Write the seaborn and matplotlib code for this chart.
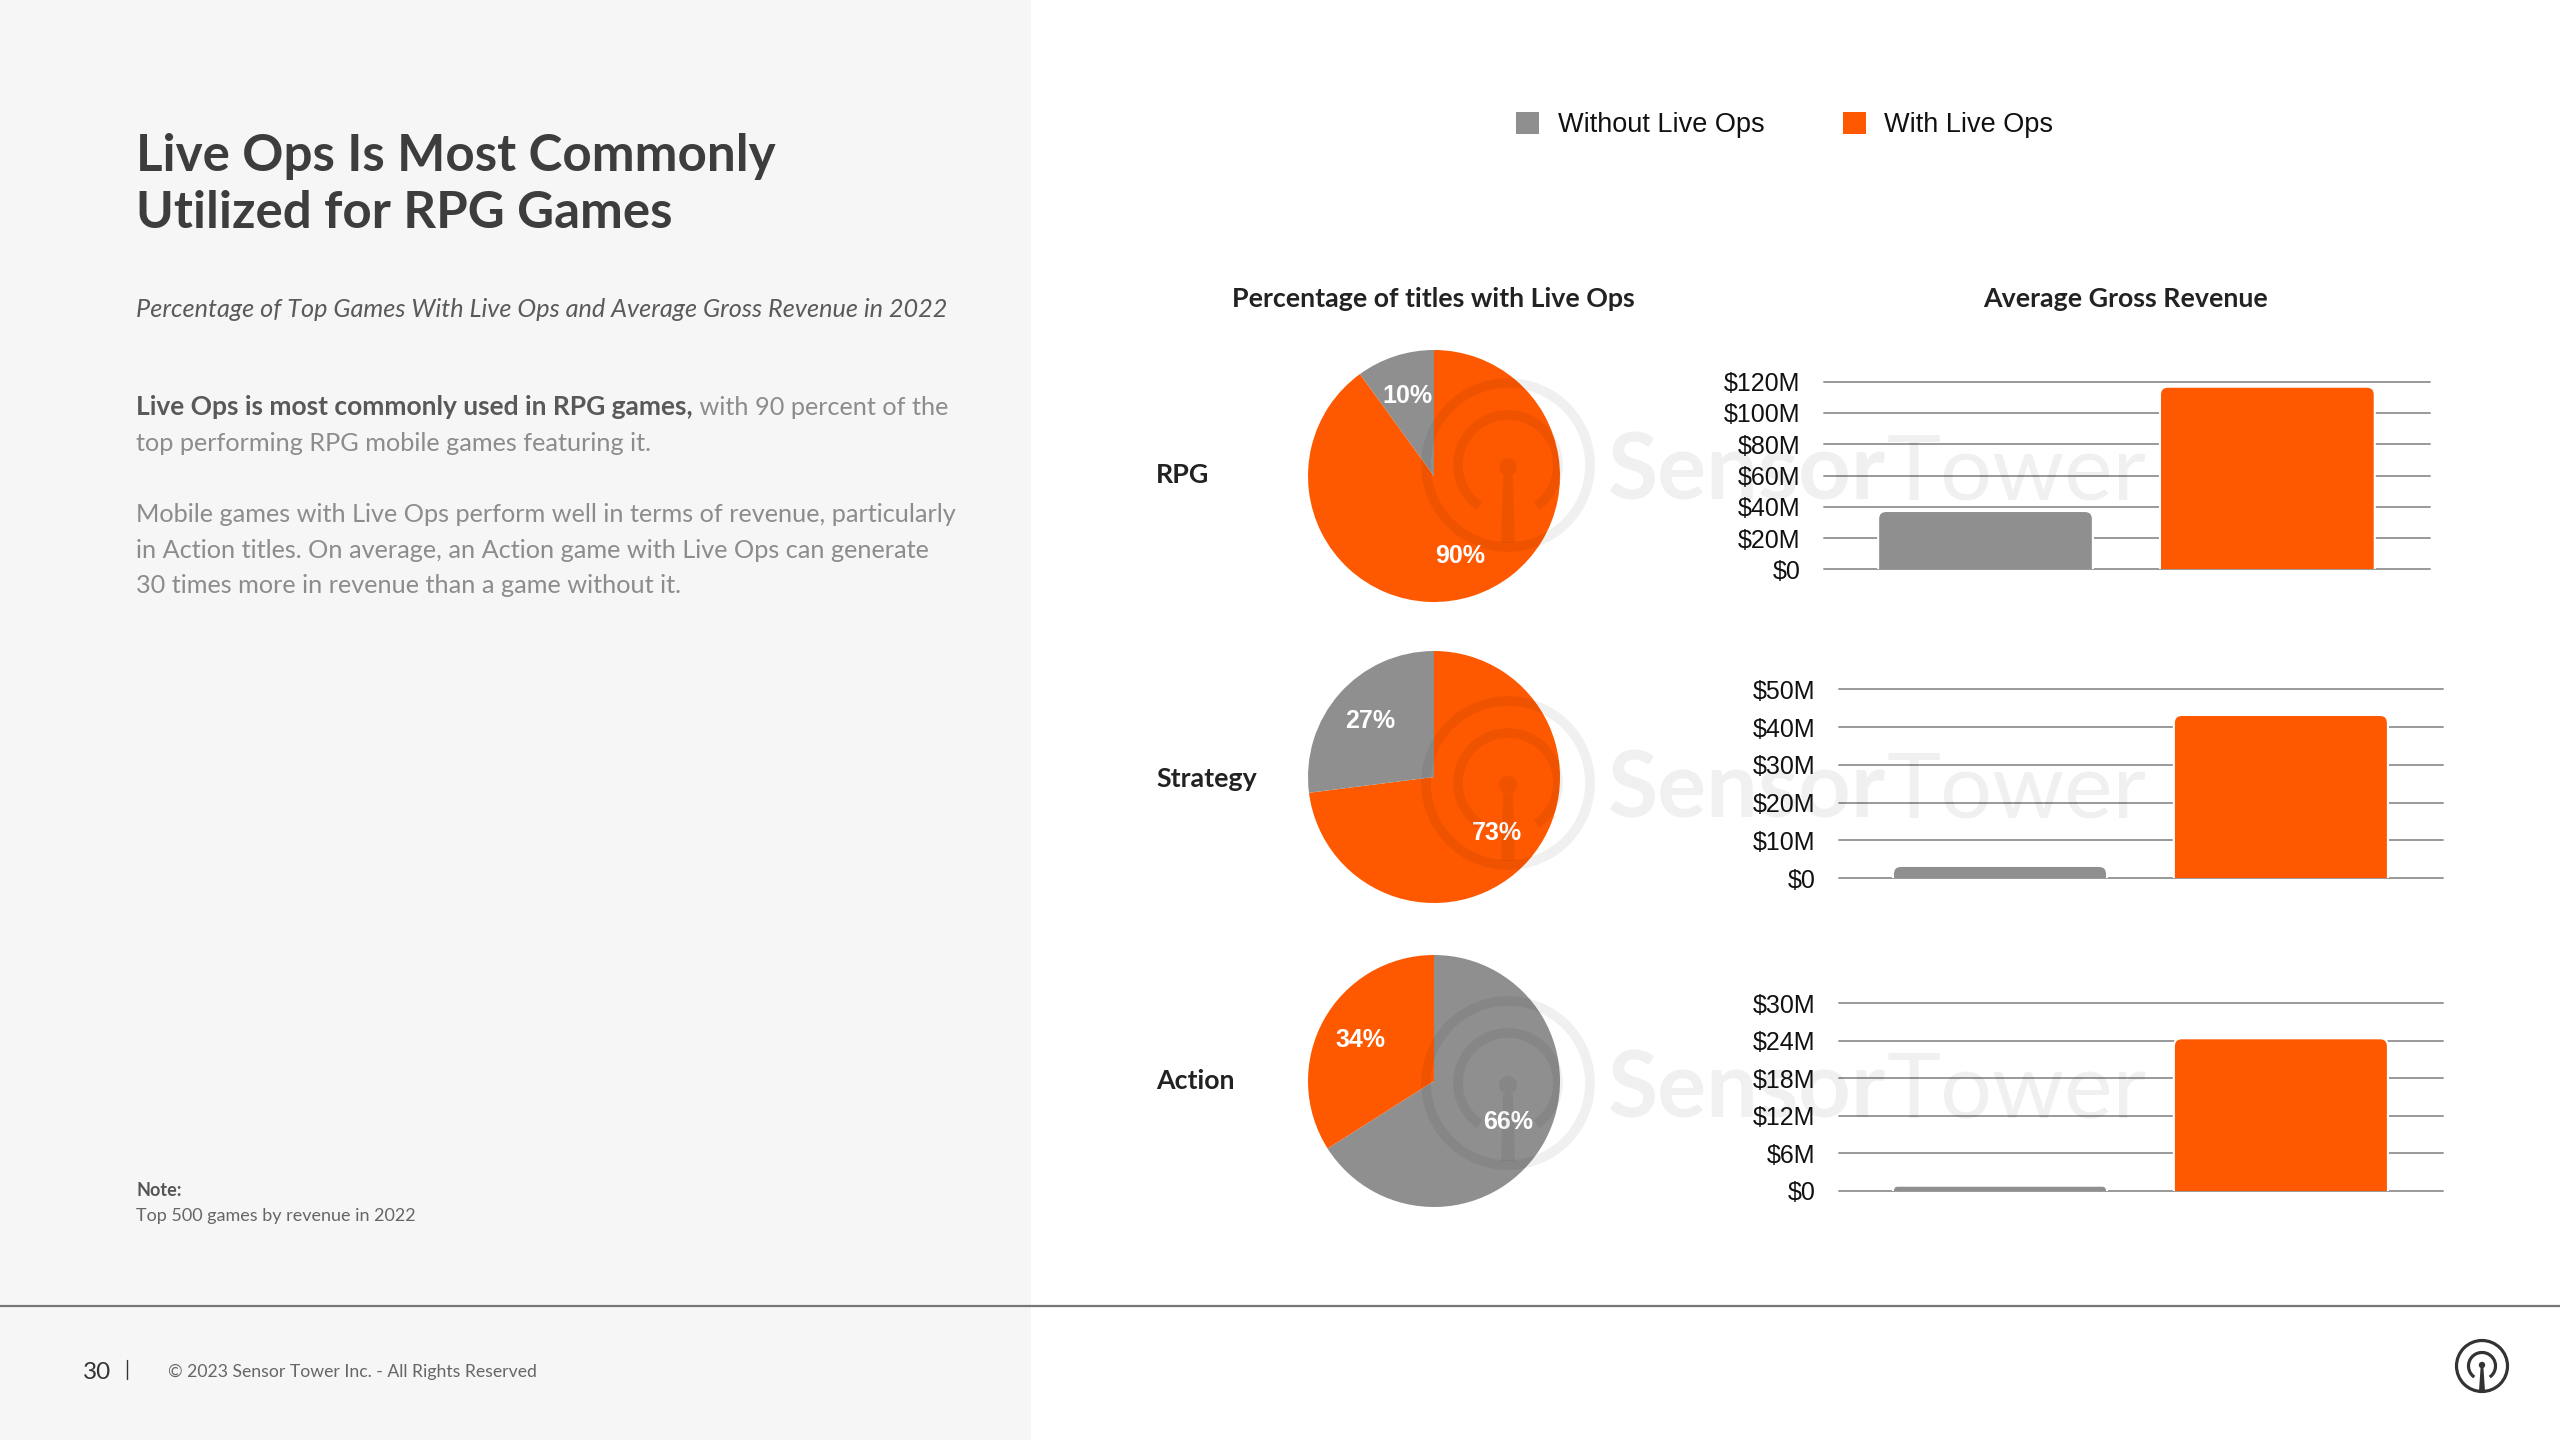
import matplotlib
matplotlib.use('Agg')
import matplotlib.pyplot as plt
from matplotlib.patches import Rectangle, FancyBboxPatch, Circle, Arc, Polygon
import seaborn as sns
import pandas as pd

# Data
genres = ['RPG', 'Strategy', 'Action']
series = ['Without Live Ops', 'With Live Ops']
share_without = [10, 27, 66]       # % of titles
share_with = [90, 73, 34]
revenue_without = [37.3, 3.2, 0.8]  # average gross revenue, $M
revenue_with = [116.8, 43.2, 24.4]
revenue_max = [120, 50, 30]
revenue_step = [20, 10, 6]

GRAY = '#8f8f8f'
ORANGE = '#fe5900'
palette = {'Without Live Ops': GRAY, 'With Live Ops': ORANGE}

W, H = 2560, 1440
sns.set_theme(style='white')
plt.rcParams['font.family'] = ['Lato', 'DejaVu Sans']
ARIAL = ['Liberation Sans', 'DejaVu Sans']
WM = (0, 0, 0, 0.06)  # watermark colour

fig = plt.figure(figsize=(W / 100, H / 100), dpi=100, facecolor='white')


def box(x0, y0, x1, y1):
    # pixel box (origin top-left) -> figure fraction rect
    return [x0 / W, 1 - y1 / H, (x1 - x0) / W, (y1 - y0) / H]


# light grey panel on the left
fig.add_artist(Rectangle((0, 0), 1031 / W, 1, transform=fig.transFigure,
                         facecolor='#f6f6f6', edgecolor='none', zorder=-1))

# overlay axes in pixel coordinates for text and decorations
ov = fig.add_axes([0, 0, 1, 1], zorder=10)
ov.set_xlim(0, W)
ov.set_ylim(H, 0)
ov.axis('off')
ov.patch.set_visible(False)
renderer = fig.canvas.get_renderer()


def txt(x, y, s, **kw):
    kw.setdefault('va', 'baseline')
    return ov.text(x, y, s, **kw)


def txt_after(t, s, **kw):
    bb = t.get_window_extent(renderer)
    kw.setdefault('va', t.get_va())
    return txt(bb.x1, t.get_position()[1], s, **kw)


def round_bars(ax, w_px, h_px, r_px=8):
    # swap seaborn's bars for copies with rounded top corners
    xr, yr = ax.get_xlim(), ax.get_ylim()
    dx = (xr[1] - xr[0]) / w_px
    dy = (yr[1] - yr[0]) / h_px
    clip = Rectangle((xr[0], 0), xr[1] - xr[0], yr[1] * 2, transform=ax.transData)
    for p in list(ax.patches):
        x, w, h = p.get_x(), p.get_width(), p.get_height()
        r = min(r_px, h / dy)
        fb = FancyBboxPatch((x, -r * dy), w, h + r * dy,
                            boxstyle=f'round,pad=0,rounding_size={r * dx}',
                            mutation_aspect=dy / dx, facecolor=p.get_facecolor(),
                            edgecolor='white', linewidth=1.5, zorder=p.get_zorder())
        p.remove()
        ax.add_patch(fb)
        fb.set_clip_path(clip)


# ---- left text column
txt(136, 171, 'Live Ops Is Most Commonly', fontsize=36.8, fontweight='bold', color='#3d3d3d')
txt(136, 228, 'Utilized for RPG Games', fontsize=36.8, fontweight='bold', color='#3d3d3d')
txt(136, 317, 'Percentage of Top Games With Live Ops and Average Gross Revenue in 2022',
    fontsize=18.2, style='italic', color='#5a5a5a')

body = dict(fontsize=18.2, color='#8c8c8c')
t = txt(136, 415, 'Live Ops is most commonly used in RPG games,', fontsize=19,
        fontweight='bold', color='#595959')
txt_after(t, ' with 90 percent of the', **body)
txt(136, 451, 'top performing RPG mobile games featuring it.', **body)
para2 = ['Mobile games with Live Ops perform well in terms of revenue, particularly',
         'in Action titles. On average, an Action game with Live Ops can generate',
         '30 times more in revenue than a game without it.']
for k, line in enumerate(para2):
    txt(136, 522 + 35.7 * k, line, **body)

txt(136, 1196, 'Note:', fontsize=13, fontweight='bold', color='#555555')
txt(136, 1221, 'Top 500 games by revenue in 2022', fontsize=13, color='#666666')

# footer
ov.plot([0, W], [1306, 1306], color='#777777', lw=1.6)
txt(83, 1379, '30', fontsize=17.5, color='#333333')
ov.plot([127, 127], [1360, 1379], color='#333333', lw=1)
txt(168, 1377, '\u00a9 2023 Sensor Tower Inc. - All Rights Reserved', fontsize=12.7, color='#666666')

# footer logo
lc = '#333333'
ov.add_patch(Circle((2482, 1366), 25.5, fill=False, ec=lc, lw=2.3))
ov.add_patch(Arc((2482, 1366), 27, 27, theta1=125, theta2=415, color=lc, lw=2.3))
ov.add_patch(Circle((2482, 1365), 3.2, fc=lc, ec='none'))
ov.add_patch(Polygon([(2480.6, 1367), (2483.4, 1367), (2485, 1391), (2479, 1391)], fc=lc, ec='none'))

# ---- legend
for x_sq, x_tx, name in [(1516, 1558, series[0]), (1843, 1884, series[1])]:
    ov.add_patch(Rectangle((x_sq, 112), 23, 22, facecolor=palette[name], edgecolor='none'))
    txt(x_tx, 132, name, fontsize=19.5, family=ARIAL, color='#111111')

# column headers
txt(1433, 307, 'Percentage of titles with Live Ops', ha='center', fontsize=19.3,
    fontweight='bold', color='#222222')
txt(2126, 307, 'Average Gross Revenue', ha='center', fontsize=19.3,
    fontweight='bold', color='#222222')

# ---- one row per genre: pie + bar chart
pie_cx, pie_r = 1434, 126
pie_cy = [476, 777, 1081]
label_base = [483, 787, 1089]
bar_boxes = [(1824, 381.7, 2430, 569.3), (1839, 689.3, 2443, 878.0), (1839, 1003.3, 2443, 1190.7)]
wm_y = [465, 783, 1083]

for i, g in enumerate(genres):
    txt(1156, label_base[i], g, fontsize=19.3, fontweight='bold', color='#222222')

    # pie: larger slice first, clockwise from 12 o'clock
    axp = fig.add_axes(box(pie_cx - pie_r, pie_cy[i] - pie_r, pie_cx + pie_r, pie_cy[i] + pie_r))
    shares = sorted(zip([share_without[i], share_with[i]], series), reverse=True)
    axp.pie([v for v, _ in shares], colors=[palette[n] for _, n in shares],
            startangle=90, counterclock=False, autopct='%d%%', pctdistance=0.67,
            wedgeprops=dict(linewidth=0),
            textprops=dict(color='white', fontsize=18, fontweight='bold', family=ARIAL))
    axp.set_xlim(-1, 1)
    axp.set_ylim(-1, 1)

    # bars
    x0, y0, x1, y1 = bar_boxes[i]
    axb = fig.add_axes(box(x0, y0, x1, y1))
    df = pd.DataFrame({'series': series, 'revenue': [revenue_without[i], revenue_with[i]]})
    sns.barplot(data=df, x='series', y='revenue', hue='series', palette=palette,
                saturation=1, width=0.762, legend=False, ax=axb)
    axb.set_xlim(-0.573, 1.577)
    axb.set_ylim(0, revenue_max[i])
    ticks = list(range(0, revenue_max[i] + 1, revenue_step[i]))
    axb.set_yticks(ticks, ['$0' if v == 0 else f'${v}M' for v in ticks])
    axb.set_xticks([])
    axb.set_xlabel('')
    axb.set_ylabel('')
    axb.tick_params(axis='y', length=0, pad=17, labelsize=18, labelcolor='#111111')
    for lab in axb.get_yticklabels():
        lab.set_family(ARIAL)
    axb.grid(axis='y', color='#999999', lw=1.4)
    axb.set_axisbelow(True)
    for gl in axb.get_ygridlines():
        gl.set_clip_on(False)
    sns.despine(ax=axb, left=True, bottom=True)
    axb.patch.set_alpha(0)
    round_bars(axb, x1 - x0, y1 - y0)

    # faint SensorTower watermark
    wy = wm_y[i]
    ov.add_patch(Circle((1508, wy), 82, fill=False, ec=WM, lw=7))
    ov.add_patch(Arc((1508, wy), 100, 100, theta1=125, theta2=415, color=WM, lw=7))
    ov.add_patch(Circle((1508, wy + 2), 9, fc=WM, ec='none'))
    ov.add_patch(Polygon([(1503, wy + 11), (1513, wy + 11), (1515, wy + 78), (1501, wy + 78)],
                         fc=WM, ec='none'))
    t = txt(1608, wy + 35, 'Sensor', fontsize=66, fontweight='bold', color=WM)
    txt_after(t, 'Tower', fontsize=66, color=WM)

fig.savefig('out.png', dpi=100, facecolor='white')
